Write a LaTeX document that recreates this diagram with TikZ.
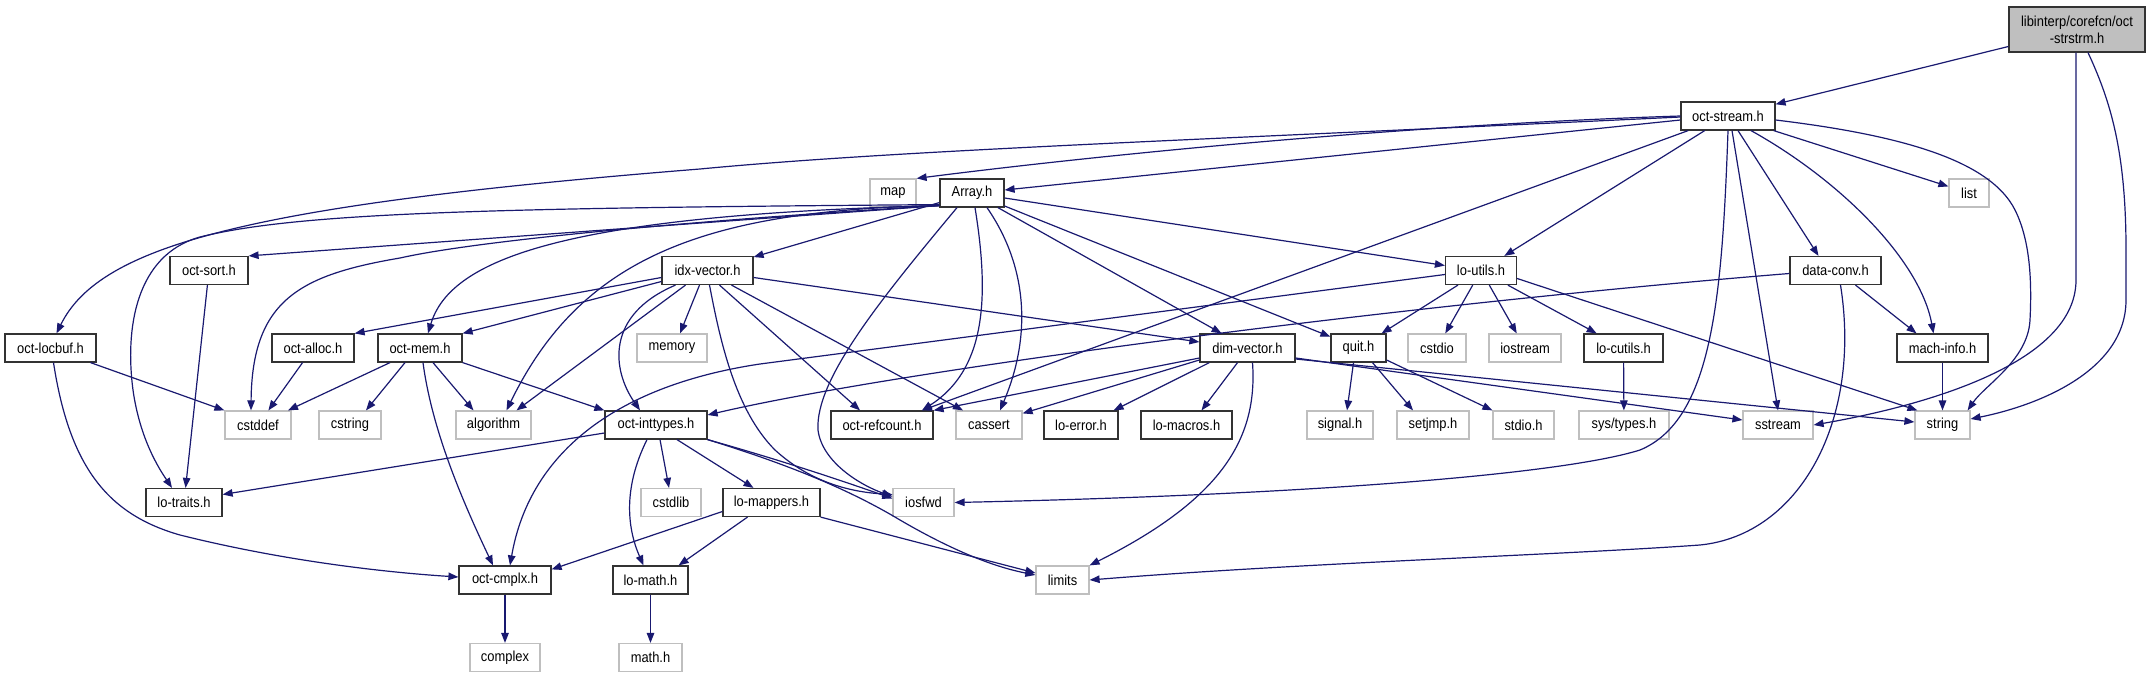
\documentclass[tikz,border=0pt]{standalone}
\usepackage{fontspec}
\setmainfont{Liberation Sans}[FakeStretch=0.89]
\usetikzlibrary{arrows.meta}
\definecolor{edgec}{HTML}{191970}
\definecolor{grayb}{HTML}{BFBFBF}
\begin{document}
\begin{tikzpicture}[x=1pt,y=-1pt,
  every node/.style={font=\fontsize{14.5}{17}\selectfont, inner sep=0pt, minimum height=28pt, align=center},
  hb/.style={draw=black!80, line width=1.2pt},
  sb/.style={draw=grayb, line width=1.2pt},
  e/.style={draw=edgec, line width=1.2pt, -{Triangle[length=10pt,width=7.5pt]}}]
\path[use as bounding box, fill=white] (0,0) rectangle (2149,677);
% nodes
\node[hb,fill=grayb,minimum width=136pt,minimum height=45pt] (top) at (2077,29.5) {libinterp/corefcn/oct\\-strstrm.h};
\node[hb,minimum width=94pt] (ostream) at (1728,116) {oct-stream.h};
\node[sb,minimum width=46pt] (map) at (893,193) {map};
\node[hb,minimum width=64pt] (array) at (972,193) {Array.h};
\node[sb,minimum width=40pt] (list) at (1969,193) {list};
\node[hb,minimum width=78pt] (octsort) at (209,270.5) {oct-sort.h};
\node[hb,minimum width=91pt] (idx) at (707.5,270.5) {idx-vector.h};
\node[hb,minimum width=71pt] (loutils) at (1481,270.5) {lo-utils.h};
\node[hb,minimum width=91pt] (dataconv) at (1835.5,270.5) {data-conv.h};
\node[hb,minimum width=91pt] (locbuf) at (50.5,348) {oct-locbuf.h};
\node[hb,minimum width=82pt] (alloc) at (313,348) {oct-alloc.h};
\node[hb,minimum width=84pt] (mem) at (420,348) {oct-mem.h};
\node[sb,minimum width=70pt] (memory) at (672,348) {memory};
\node[hb,minimum width=95pt] (dimvec) at (1247.5,348) {dim-vector.h};
\node[hb,minimum width=55pt] (quit) at (1358.5,348) {quit.h};
\node[sb,minimum width=58pt] (cstdio) at (1437,348) {cstdio};
\node[sb,minimum width=72pt] (iostream) at (1525,348) {iostream};
\node[hb,minimum width=79pt] (locutils) at (1623.5,348) {lo-cutils.h};
\node[hb,minimum width=91pt] (machinfo) at (1942.5,348) {mach-info.h};
\node[sb,minimum width=66pt] (cstddef) at (258,425) {cstddef};
\node[sb,minimum width=62pt] (cstring) at (350,425) {cstring};
\node[sb,minimum width=75pt] (algorithm) at (493.5,425) {algorithm};
\node[hb,minimum width=102pt] (inttypes) at (656,425) {oct-inttypes.h};
\node[hb,minimum width=102pt] (refcount) at (882,425) {oct-refcount.h};
\node[sb,minimum width=66pt] (cassert) at (989,425) {cassert};
\node[hb,minimum width=74pt] (loerror) at (1081,425) {lo-error.h};
\node[hb,minimum width=91pt] (lomacros) at (1186.5,425) {lo-macros.h};
\node[sb,minimum width=66pt] (signal) at (1340,425) {signal.h};
\node[sb,minimum width=72pt] (setjmp) at (1433,425) {setjmp.h};
\node[sb,minimum width=61pt] (stdio) at (1523.5,425) {stdio.h};
\node[sb,minimum width=90pt] (systypes) at (1624,425) {sys/types.h};
\node[sb,minimum width=70pt] (sstream) at (1778,425) {sstream};
\node[sb,minimum width=55pt] (string) at (1942.5,425) {string};
\node[hb,minimum width=76pt] (lotraits) at (184,502.5) {lo-traits.h};
\node[sb,minimum width=60pt] (cstdlib) at (671,502.5) {cstdlib};
\node[hb,minimum width=97pt] (lomappers) at (771.5,502.5) {lo-mappers.h};
\node[sb,minimum width=61pt] (iosfwd) at (923.5,502.5) {iosfwd};
\node[hb,minimum width=92pt] (cmplx) at (505,580) {oct-cmplx.h};
\node[hb,minimum width=75pt] (lomath) at (650.5,580) {lo-math.h};
\node[sb,minimum width=53pt] (limits) at (1062.5,580) {limits};
\node[sb,minimum width=70pt] (complex) at (505,657.5) {complex};
\node[sb,minimum width=63pt] (mathh) at (650.5,657.5) {math.h};
% top file
\draw[e] (top) -- (ostream);
\draw[e] ([xshift=-1pt]top.south) -- (2076,280) .. controls (2076,370) and (1900,410) .. (sstream.east);
\draw[e] ([xshift=11pt]top.south) .. controls (2110,100) and (2126,150) .. (2126,250) -- (2126,300) .. controls (2126,370) and (2040,405) .. ([yshift=6pt]string.east);
% oct-stream.h
\draw[e] ([yshift=-1pt]ostream.west) .. controls (1200,140) and (900,150) .. (700,169) .. controls (250,205) and (100,245) .. ([xshift=6pt]locbuf.north);
\draw[e] (ostream.west) .. controls (1400,125) and (1100,155) .. (map.north east);
\draw[e] ([yshift=-4pt]ostream.west) -- ([yshift=3pt]array.east);
\draw[e] (ostream) -- (list);
\draw[e] ([yshift=-4pt]ostream.east) .. controls (1900,135) and (1990,160) .. (2015,210) .. controls (2030,240) and (2032,280) .. (2030,320) .. controls (2028,360) and (1985,385) .. ([xshift=-3pt]string.north east);
\draw[e] (ostream) -- (loutils);
\draw[e] (ostream) -- (refcount);
\draw[e] (ostream.south) .. controls (1722,300) and (1712,420) .. (1640,450) .. controls (1560,475) and (1300,495) .. (iosfwd.east);
\draw[e] ([xshift=4pt]ostream.south) -- (sstream.north);
\draw[e] ([xshift=10pt]ostream.south) -- ([xshift=-17pt]dataconv.north);
\draw[e] ([xshift=23pt]ostream.south) .. controls (1840,180) and (1920,260) .. ([xshift=-9pt]machinfo.north);
% Array.h
\draw[e] ([yshift=2pt]array.south west) -- (octsort.north east);
\draw[e] ([yshift=3pt]array.south west) .. controls (500,208) and (300,212) .. (200,237) .. controls (135,255) and (125,330) .. (133,390) .. controls (140,440) and (160,470) .. ([xshift=-12pt]lotraits.north);
\draw[e] ([yshift=2pt]array.south west) .. controls (700,220) and (480,240) .. (400,258) .. controls (300,275) and (252,300) .. ([xshift=-7pt]cstddef.north);
\draw[e] ([yshift=2pt]array.south west) .. controls (560,215) and (450,260) .. ([xshift=8pt]mem.north);
\draw[e] ([yshift=2pt]array.south west) .. controls (700,210) and (580,260) .. ([xshift=13pt]algorithm.north);
\draw[e] (array) -- (idx);
\draw[e] ([xshift=-15pt]array.south) .. controls (880,300) and (815,380) .. (818,430) .. controls (822,462) and (860,485) .. ([yshift=6pt]iosfwd.west);
\draw[e] ([xshift=3pt]array.south) .. controls (990,300) and (985,370) .. ([xshift=40pt]refcount.north);
\draw[e] ([xshift=15pt]array.south) .. controls (1030,270) and (1030,340) .. ([xshift=11pt]cassert.north);
\draw[e] (array) -- (dimvec);
\draw[e] (array) -- (quit);
\draw[e] ([yshift=-5pt]array.east) -- ([yshift=5pt]loutils.west);
% idx-vector.h
\draw[e] ([yshift=-7pt]idx.west) -- (alloc.north east);
\draw[e] ([yshift=-11pt]idx.west) -- (mem.north east);
\draw[e] ([xshift=-32pt]idx.south) .. controls (605,315) and (612,370) .. ([xshift=-16pt]inttypes.north);
\draw[e] ([xshift=-22pt]idx.south) -- ([xshift=23pt]algorithm.north);
\draw[e] ([xshift=-8pt]idx.south) -- ([xshift=8pt]memory.north);
\draw[e] ([xshift=2pt]idx.south) .. controls (720,340) and (735,410) .. (775,450) .. controls (810,482) and (850,492) .. ([yshift=8pt]iosfwd.west);
\draw[e] ([xshift=12pt]idx.south) -- ([xshift=-22pt]refcount.north);
\draw[e] ([xshift=24pt]idx.south) -- ([xshift=-26pt]cassert.north);
\draw[e] ([yshift=-7pt]idx.east) -- ([yshift=6pt]dimvec.west);
% misc upper
\draw[e] (octsort) -- (lotraits);
\draw[e] ([xshift=40pt]locbuf.south) -- (cstddef.north west);
\draw[e] ([xshift=3pt]locbuf.south) .. controls (70,470) and (110,515) .. (180,535) .. controls (280,560) and (380,572) .. ([yshift=3pt]cmplx.west);
\draw[e] (alloc) -- (cstddef);
% oct-mem.h
\draw[e] ([xshift=-30pt]mem.south) -- ([xshift=30pt]cstddef.north);
\draw[e] ([xshift=-15pt]mem.south) -- ([xshift=16pt]cstring.north);
\draw[e] ([xshift=13pt]mem.south) -- ([xshift=-20pt]algorithm.north);
\draw[e] (mem.south east) -- (inttypes.north west);
\draw[e] ([xshift=3pt]mem.south) .. controls (432,430) and (462,500) .. ([xshift=-12pt]cmplx.north);
% dim-vector.h
\draw[e] ([yshift=-10pt]dimvec.west) -- (refcount.north east);
\draw[e] ([yshift=-12pt]dimvec.west) -- ([yshift=-3pt]cassert.north east);
\draw[e] ([xshift=10pt]dimvec.south west) -- ([xshift=-5pt]loerror.north east);
\draw[e] ([xshift=-10pt]dimvec.south) -- ([xshift=15pt]lomacros.north);
\draw[e] ([xshift=5pt]dimvec.south) .. controls (1258,440) and (1220,500) .. (limits.north east);
\draw[e] ([yshift=-10pt]dimvec.east) -- ([yshift=5pt]sstream.west);
\draw[e] ([yshift=-11pt]dimvec.east) -- ([yshift=3pt]string.west);
% quit.h
\draw[e] ([xshift=-5pt]quit.south) -- ([xshift=7pt]signal.north);
\draw[e] ([xshift=14pt]quit.south) -- ([xshift=-20pt]setjmp.north);
\draw[e] ([yshift=-12pt]quit.east) -- (stdio.north west);
% lo-utils.h
\draw[e] ([yshift=-4pt]loutils.west) -- (760,364) .. controls (620,385) and (530,450) .. ([xshift=5pt]cmplx.north);
\draw[e] (loutils) -- (quit);
\draw[e] (loutils) -- (cstdio);
\draw[e] (loutils) -- (iostream);
\draw[e] (loutils) -- (locutils);
\draw[e] ([yshift=-8pt]loutils.east) -- ([xshift=3pt]string.north west);
\draw[e] (locutils) -- (systypes);
% data-conv.h
\draw[e] ([yshift=-3pt]dataconv.west) .. controls (1400,305) and (900,370) .. ([yshift=10pt]inttypes.east);
\draw[e] ([xshift=20pt]dataconv.south) -- ([xshift=-26pt]machinfo.north);
\draw[e] ([xshift=5pt]dataconv.south) .. controls (1862,420) and (1800,535) .. (1700,545) .. controls (1560,555) and (1300,563) .. (limits.east);
\draw[e] (machinfo) -- (string);
% oct-inttypes.h
\draw[e] ([yshift=-8pt]inttypes.west) -- ([yshift=8pt]lotraits.east);
\draw[e] ([xshift=-9pt]inttypes.south) .. controls (622,490) and (628,530) .. ([xshift=-7pt]lomath.north);
\draw[e] ([xshift=4pt]inttypes.south) -- ([xshift=-2pt]cstdlib.north);
\draw[e] ([xshift=21pt]inttypes.south) -- ([xshift=-18pt]lomappers.north);
\draw[e] (inttypes.south east) .. controls (780,460) and (840,480) .. ([yshift=4pt]iosfwd.west);
\draw[e] (inttypes.south east) .. controls (790,465) and (850,490) .. (900,520) .. controls (960,555) and (1000,568) .. ([yshift=5pt]limits.west);
% lo-mappers.h
\draw[e] ([yshift=-9pt]lomappers.west) -- ([yshift=-4pt]cmplx.north east);
\draw[e] ([xshift=-24pt]lomappers.south) -- ([xshift=-10pt]lomath.north east);
\draw[e] (lomappers.south east) -- ([yshift=7pt]limits.west);
\draw[e] (cmplx) -- (complex);
\draw[e] (lomath) -- (mathh);
\end{tikzpicture}
\end{document}
